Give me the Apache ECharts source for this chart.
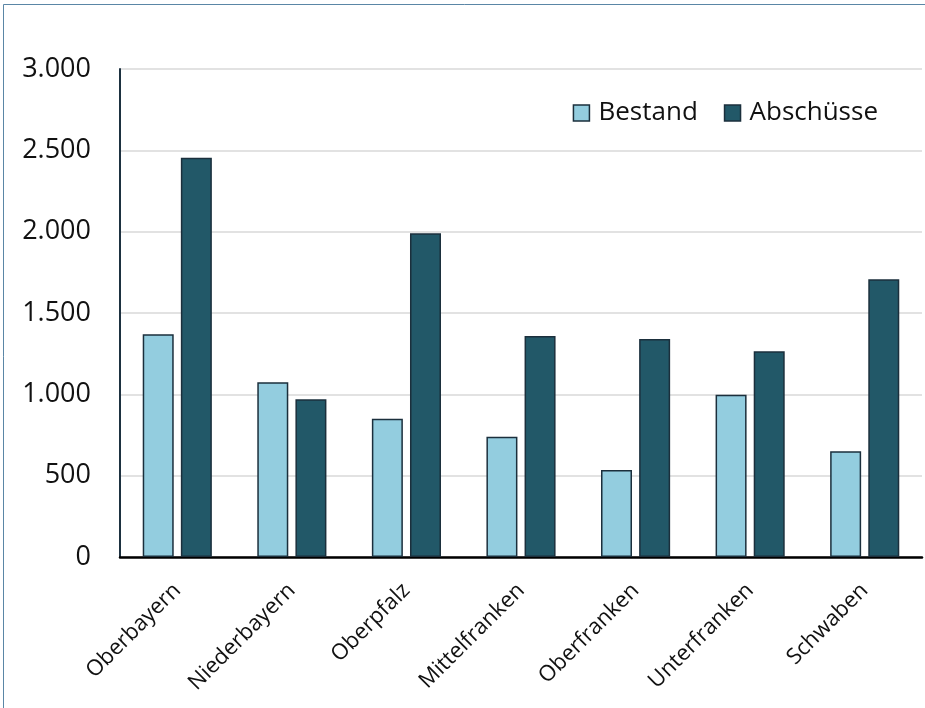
<!DOCTYPE html>
<html>
<head>
<meta charset="utf-8">
<script src="https://cdn.jsdelivr.net/npm/echarts@6/dist/echarts.min.js"></script>
<style>
  html, body { margin: 0; padding: 0; background: #ffffff; }
  #chart { width: 925px; height: 708px; }
</style>
</head>
<body>
<div id="chart"></div>
<script>
// Regierungsbezirke in Bayern
const regions = ['Oberbayern', 'Niederbayern', 'Oberpfalz', 'Mittelfranken', 'Oberfranken', 'Unterfranken', 'Schwaben'];
const bestand = [1370, 1075, 850, 740, 535, 997, 650];
const abschuesse = [2455, 970, 1990, 1358, 1340, 1265, 1708];
const yTicks = { min: 0, max: 3000, interval: 500 };

const fontFamily = '"Open Sans", "Noto Sans", sans-serif';
const barBorder = '#1b2f3c';

const chart = echarts.init(document.getElementById('chart'), null, { renderer: 'canvas' });

chart.setOption({
  animation: false,
  backgroundColor: '#ffffff',
  textStyle: { fontFamily: fontFamily },
  graphic: [{
    type: 'rect',
    shape: { x: 3.5, y: 4.5, width: 1000, height: 1000 },
    style: { fill: 'none', stroke: '#5a86a6', lineWidth: 1 },
    silent: true
  }],
  legend: {
    right: 42,
    top: 95,
    itemWidth: 16,
    itemHeight: 16,
    itemGap: 26,
    textStyle: { fontSize: 26, color: '#111', fontFamily: fontFamily, padding: [0, 0, 0, 4] },
    data: [
      { name: 'Bestand', icon: 'rect', itemStyle: { borderColor: barBorder, borderWidth: 1.5 } },
      { name: 'Abschüsse', icon: 'rect', itemStyle: { borderColor: barBorder, borderWidth: 1.5 } }
    ]
  },
  grid: { left: 120, right: 3, top: 69, bottom: 151, containLabel: false },
  xAxis: {
    type: 'category',
    data: regions,
    axisLine: { show: true, lineStyle: { color: '#000', width: 2.5 } },
    axisTick: { show: false },
    axisLabel: {
      rotate: 45,
      margin: 30,
      fontSize: 22,
      color: '#111',
      fontFamily: fontFamily
    }
  },
  yAxis: {
    type: 'value',
    min: yTicks.min,
    max: yTicks.max,
    interval: yTicks.interval,
    axisLine: { show: true, lineStyle: { color: '#1d3140', width: 2 } },
    axisTick: { show: false },
    splitLine: { lineStyle: { color: '#d9d9d9', width: 1.5 } },
    axisLabel: {
      margin: 29,
      fontSize: 27,
      color: '#111',
      fontFamily: fontFamily,
      formatter: v => v.toLocaleString('de-DE')
    }
  },
  series: [
    {
      name: 'Bestand',
      type: 'bar',
      data: bestand,
      barWidth: 31,
      barGap: '23%',
      itemStyle: { color: '#93cddf', borderColor: barBorder, borderWidth: 1.5 }
    },
    {
      name: 'Abschüsse',
      type: 'bar',
      data: abschuesse,
      barWidth: 31,
      barGap: '23%',
      itemStyle: { color: '#225868', borderColor: barBorder, borderWidth: 1.5 }
    }
  ]
});
</script>
</body>
</html>
